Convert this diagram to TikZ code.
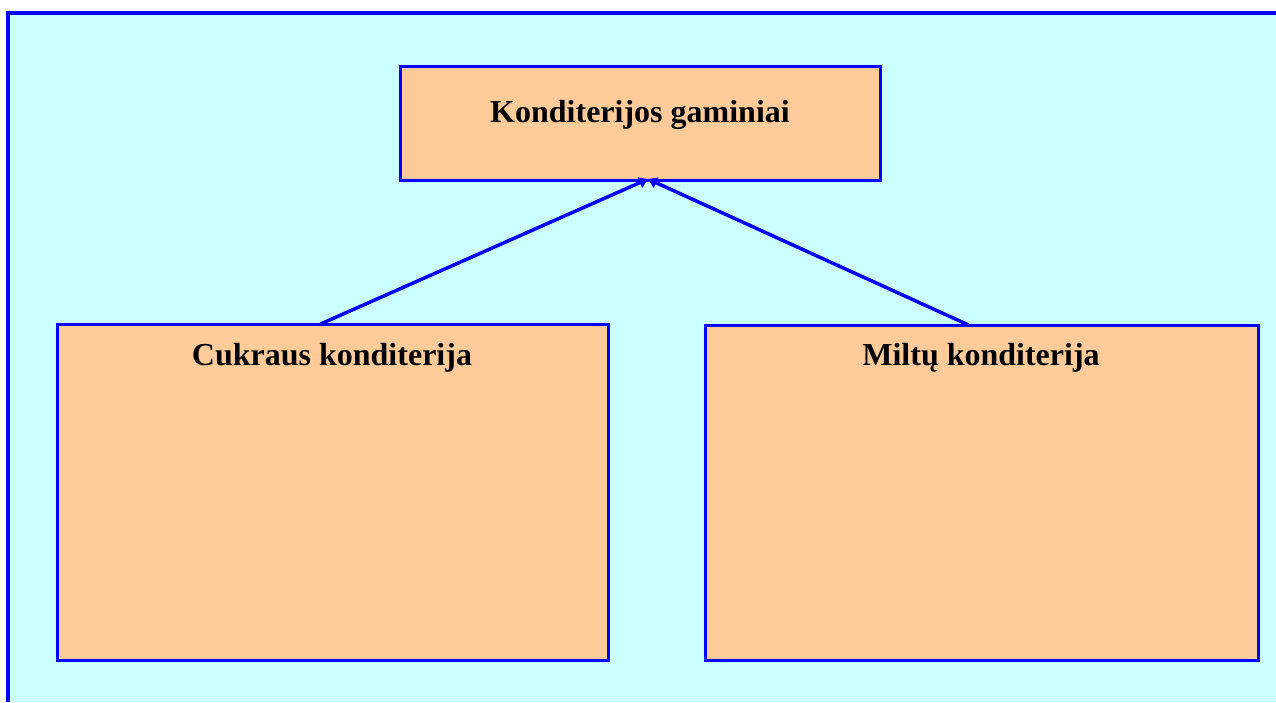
\documentclass[tikz,border=0pt]{standalone}
\usepackage{fontspec}
\setmainfont{Liberation Serif}
\usetikzlibrary{arrows.meta}
\definecolor{bgcyan}{HTML}{CCFFFF}
\definecolor{boxorange}{HTML}{FFCC99}
\begin{document}
\begin{tikzpicture}[x=1pt,y=-1pt,
  catbox/.style={draw=blue,fill=boxorange,line width=3pt,inner sep=0pt,outer sep=0pt},
  cattext/.style={font=\bfseries\fontsize{32}{38}\selectfont,anchor=base,inner sep=0pt},
  link/.style={draw=blue,line width=3.5pt,-{Triangle[length=9pt,width=11pt]}}]
\useasboundingbox (0,0) rectangle (1276,702);
\fill[bgcyan] (8,13) rectangle (1276,702);
\draw[blue,line width=3.5pt] (8,702) -- (8,13) -- (1276,13);
\node[catbox,minimum width=480pt,minimum height=114pt,anchor=north west] (top) at (400,66) {};
\node[catbox,minimum width=551pt,minimum height=336pt,anchor=north west] (cuk) at (57,324) {};
\node[catbox,minimum width=553pt,minimum height=335pt,anchor=north west] (mil) at (705,325) {};
\node[cattext] (toptext) at (640,122) {Konditerijos gaminiai};
\node[cattext] (cuktext) at (332,365) {Cukraus konditerija};
\node[cattext] (miltext) at (981,365) {Miltų konditerija};
\draw[link] ([xshift=-12pt]cuk.north) -- ([xshift=8pt,yshift=1pt]top.south);
\draw[link] ([xshift=-13pt]mil.north) -- ([xshift=8pt,yshift=1pt]top.south);
\end{tikzpicture}
\end{document}
